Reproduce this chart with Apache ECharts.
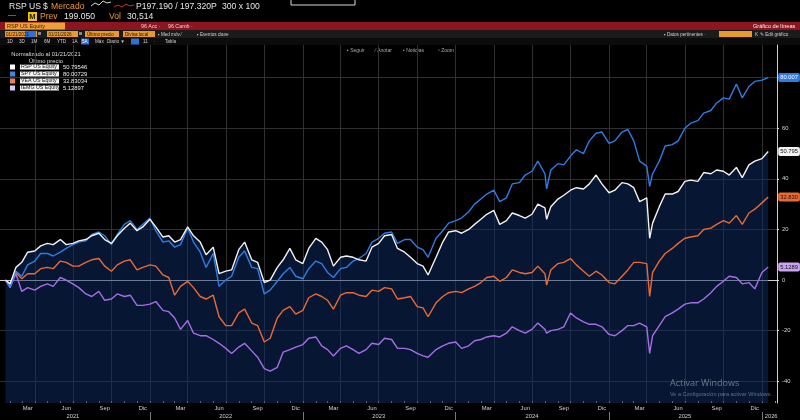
<!DOCTYPE html>
<html><head><meta charset="utf-8">
<script src="https://cdn.jsdelivr.net/npm/echarts@6/dist/echarts.min.js"></script>
<style>html,body{margin:0;padding:0;background:#000;}#c{width:800px;height:420px;}</style>
</head><body><div id="c"></div>
<script>
const dates = [
'2021-01-21','2021-02-01','2021-02-15','2021-03-01','2021-03-15','2021-04-01','2021-04-15','2021-05-01','2021-05-15','2021-06-01','2021-06-15','2021-07-01','2021-07-15','2021-08-01','2021-08-15','2021-09-01','2021-09-15','2021-10-01','2021-10-15','2021-11-01','2021-11-15','2021-12-01','2021-12-15',
'2022-01-01','2022-01-15','2022-02-01','2022-02-15','2022-03-01','2022-03-15','2022-04-01','2022-04-15','2022-05-01','2022-05-15','2022-06-01','2022-06-15','2022-07-01','2022-07-15','2022-08-01','2022-08-15','2022-09-01','2022-09-15','2022-10-01','2022-10-15','2022-11-01','2022-11-15','2022-12-01','2022-12-15',
'2023-01-01','2023-01-15','2023-02-01','2023-02-15','2023-03-01','2023-03-15','2023-04-01','2023-04-15','2023-05-01','2023-05-15','2023-06-01','2023-06-15','2023-07-01','2023-07-15','2023-08-01','2023-08-15','2023-09-01','2023-09-15','2023-10-01','2023-10-15','2023-10-27','2023-11-15','2023-12-01','2023-12-15',
'2024-01-01','2024-01-15','2024-02-01','2024-02-15','2024-03-01','2024-03-15','2024-04-01','2024-04-15','2024-05-01','2024-05-15','2024-06-01','2024-06-15','2024-07-01','2024-07-15','2024-08-01','2024-08-05','2024-08-15','2024-09-01','2024-09-15','2024-10-01','2024-10-15','2024-11-01','2024-11-15','2024-12-01','2024-12-15',
'2025-01-01','2025-01-15','2025-02-01','2025-02-15','2025-03-01','2025-03-15','2025-04-01','2025-04-08','2025-04-15','2025-05-01','2025-05-15','2025-06-01','2025-06-15','2025-07-01','2025-07-15','2025-08-01','2025-08-15','2025-09-01','2025-09-15','2025-10-01','2025-10-15','2025-11-01','2025-11-15','2025-12-01','2025-12-15',
'2026-01-01','2026-01-16'];

const rsp = [
0,-1.5,5,7,11,11.5,13.5,14.5,14,16,14,14.5,15.5,16,17.5,18.5,16,14.5,17.5,20.5,22.5,19.5,21,
24,21,17,17.5,15,16,21,17.5,15,10,13,2.5,3.5,4,12,15,8,7,-1,0,5,8,12.5,8,
6.5,12.5,16.5,15,12,5.5,9,9.5,9,8,7.5,13,14.5,17.5,18,12.5,11,9,6.5,5.5,2,9,15,19,
19.5,18.5,20,22,24,26,27.5,22,23.5,26.5,25.5,24.5,26,30,28.5,24,29,32,33.5,35.5,36.5,36,38,41.5,38,
34.5,35.5,38.5,38,36.5,31,32.5,16.5,22.5,29,34,34,35,39,39.5,39,42.5,42,43.5,43,41.5,44.5,40.5,45.5,47,
48,50.79546];

const spy = [
0,-2.5,3.5,1.5,6,7.5,10.5,10.5,9.5,11,12.5,14,15,15.5,18,19,17.5,14,18,22,23.5,20,22,
24.5,19.5,15,15.5,13,14,20.5,15,11,5,10.5,-2.5,0,1.5,9,11.5,5,4.5,-5.5,-4,-0.5,2.5,5,1.5,
0.5,4.5,7.5,6.5,3,1,4.5,5,7.5,8.5,10.5,15,16.5,18.5,19,14.5,16,16,13,12,9,16.5,19.5,22.5,
23.5,24.5,27,30,32,34,35.5,31,32.5,38,38.5,41.5,43,47,42,36,43.5,46,45.5,49,51.5,50,55,58,58.5,
54,55,58.5,59.5,55,47,45,37,42,47,53,53.5,55,60,62,63,66,67,70,72,71.5,77.5,72,76.5,78.5,
79,80.00729];

const vea = [
0,-1.5,3,0.5,2.5,2.5,4.5,5,4.5,7.5,7,5.5,5.5,7,8,8.5,5.5,3.5,6,7.5,8,4,5,
6,5.5,2,1,-6,-2.5,-0.5,-3,-6.5,-7.5,-6,-14.5,-18,-18,-13,-11.5,-17,-18,-24.5,-23,-15,-12,-10.5,-13.5,
-12,-7,-5.5,-6.5,-8,-11.5,-6,-5,-5,-6,-6.5,-4,-4.5,-3,-3.5,-7.5,-7,-6.5,-10.5,-11,-14.5,-9,-6.5,-5,
-4.5,-5,-3.5,-2.5,-1,1,1.5,-0.5,1,4,3,2.5,3,5.5,2.5,-2,4,6.5,7,8.5,6,3.5,1.5,3.5,2,
-1,-1.5,1.5,4,7,7,6.5,-6.5,3,7.5,10.5,12.5,14.5,16.5,17,17.5,20,20.5,22,23.5,22.5,25.5,22,26.5,28,
30.5,32.83034];

const iemg = [
0,-3,2.5,-4.5,-3,-4,-2.5,-1.5,-2.5,1,0,-1.5,-3,-5.5,-6.5,-4.5,-8,-7.5,-5.5,-6.5,-6,-10,-10,
-9.5,-8.5,-12,-12.5,-15,-19.5,-16,-21,-22,-22,-23.5,-25,-27,-29,-26.5,-25,-28,-30.5,-35,-36,-34.5,-28.5,-27.5,-26.5,
-25.5,-23,-22.5,-26,-27.5,-30,-27,-26,-27.5,-29,-27.5,-25,-25.5,-23,-23.5,-27,-27,-27.5,-29,-30,-30.5,-27.5,-26,-25,
-24.5,-27,-26,-24,-23.5,-22.5,-22,-22.5,-21,-18.5,-20,-21,-19.5,-17,-19.5,-21,-20,-19.5,-18.5,-13,-15,-16.5,-17.5,-17.5,-18.5,
-21.5,-22,-20,-18,-18,-17,-18.5,-29,-22,-18,-14.5,-13,-11.5,-9.5,-9,-9,-7.5,-5,-2.5,-0.5,1.5,1,-1.5,-1,-3.5,
3,5.12897];

const seriesNames = ['RSP US Equity','SPY US Equity','VEA US Equity','IEMG US Equity'];
const seriesColors = ['#f2f2f2','#2f7de4','#ea6a34','#a66ee6'];
const legendIconColors = ['#ffffff','#3a86ea','#f08050','#dcc8f6'];
const endBoxColors = ['#f2f2f2','#2f7de4','#ea6a34','#c9a4f2'];
const endTextColors = ['#111','#fff','#111','#111'];
const monthNames = ['Ene','Feb','Mar','Abr','May','Jun','Jul','Ago','Sep','Oct','Nov','Dic'];
const yTickValues = [-40,-20,0,20,40,60,80];
const yLabelValues = [-40,-20,0,20,40,60];
const labelYears = [2021,2022,2023,2024,2025];
const labelMonths = [2,5,8,11];

const ts = d => { const p = d.split('-').map(Number); return Date.UTC(p[0], p[1]-1, p[2]); };
const allValues = [rsp, spy, vea, iemg];
const pairs = arr => dates.map((d,i) => [ts(d), arr[i]]);

const X_MIN = Date.UTC(2021,0,8), X_MAX = Date.UTC(2026,1,6);
const monthLabelVals = [];
labelYears.forEach(y => labelMonths.forEach(m => monthLabelVals.push(Date.UTC(y,m,15))));
const monthTickVals = [];
for (let y=2021;y<=2026;y++) for (let m=0;m<12;m++){ const t=Date.UTC(y,m,1); if (t>X_MIN && t<X_MAX) monthTickVals.push(t); }
const quarterVals = [];
for (let y=2021;y<=2026;y++) for (let m=0;m<12;m+=3){ const t=Date.UTC(y,m,1); if (t>X_MIN && t<X_MAX) quarterVals.push(t); }
const yearLabelVals = labelYears.map(y => Date.UTC(y,6,1)).concat([Date.UTC(2026,0,23)]);
const yearTickVals = [2022,2023,2024,2025,2026].map(y => Date.UTC(y,0,1));

const fmtLast = v => { const d = Math.floor(Math.log10(Math.abs(v)))+1; const dec = Math.max(0,5-d); const f = Math.pow(10,dec); return (Math.floor(v*f)/f).toFixed(dec); };
const lastVal = {};
seriesNames.forEach((n,i) => lastVal[n] = allValues[i][allValues[i].length-1]);

const F = 'Liberation Sans, Arial, sans-serif';
const T = (x,y,text,fill,size,extra) => {
  const e = Object.assign({type:'text', x:x, y:y}, extra||{});
  e.style = Object.assign({text:text, fill:fill, font:(size||6)+'px '+F, verticalAlign:'top'}, (extra&&extra.s)||{});
  delete e.s;
  return e;
};
const R = (x,y,w,h,fill,stroke) => ({type:'rect', shape:{x:x,y:y,width:w,height:h}, style: stroke ? {fill:'none', stroke:stroke, lineWidth:1} : {fill:fill}});

const HF = 8.6;
const graphics = [
  // header row 1
  T(9,2,'RSP US','#e6e6e6',HF),
  T(43,2,'$','#e6e6e6',HF),
  T(51,2,'Mercado','#ef9a2c',HF),
  {type:'polyline', shape:{points:[[91,6],[95,3],[99,5],[103,1],[107,3],[111,2]]}, style:{stroke:'#d8d8d8', lineWidth:1, fill:null}},
  {type:'polyline', shape:{points:[[114,7],[118,5],[122,7],[126,4],[130,6],[134,5]]}, style:{stroke:'#c83030', lineWidth:1, fill:null}},
  T(136,2,'P197.190 / 197.320P','#e6e6e6',HF),
  T(222,2,'300 x 100','#e6e6e6',HF),
  R(291,-4,64,9,null,'#d8d8d8'),
  // header row 2
  T(8,11,'—','#bbbbbb',8),
  R(28,12,9,9,'#f3c300'),
  T(29.3,12.8,'M','#1a1a1a',7.5,{s:{font:'bold 7.5px '+F}}),
  T(40,12,'Prev','#ef9a2c',HF),
  T(64,12,'199.050','#e6e6e6',HF),
  T(109,12,'Vol','#ef9a2c',HF),
  T(127,12,'30,514','#e6e6e6',HF),
  // red bar
  R(0,22,800,8,'#8c1520'),
  R(5,22.5,60,7,'#f0a038'),
  T(7,23.4,'RSP US Equity','#4a1500',5.6),
  T(141,23.6,'96 Acc ·','#f3cccc',5.3),
  T(168,23.6,'96 Camb ·','#f3cccc',5.3),
  T(753,23.4,'Gráfico de líneas','#f5f5f5',5.6),
  // toolbar row
  R(0,30,800,8,'#1b1b1b'),
  R(5,31,32,6,'#e99a2e'), R(25,31,11,6,'#2f6fd8'),
  T(6,31.9,'01/21/2021','#2a1200',4.6),
  R(38,32,3,3,'#888'),
  R(47,31,31,6,'#e99a2e'), T(48.5,31.9,'01/21/2026','#2a1200',4.6),
  R(79,32,3,3,'#888'),
  R(85,31,34,6,'#e99a2e'), T(87,31.9,'Último precio','#2a1200',4.6),
  R(123,31,32,6,'#e99a2e'), T(125,31.9,'Divisa local','#2a1200',4.6),
  T(158,31.9,'▪ Med móv ⁄','#cfcfcf',4.6),
  T(197,31.9,'▪ Eventos clave','#cfcfcf',4.6),
  T(664,31.9,'▪ Datos pertinentes ·','#cfcfcf',4.6),
  R(719,31,33,6,'#e99a2e'),
  T(755,31.9,'K','#cfcfcf',4.6),
  T(760,31.9,'✎ Edit gráfico','#cfcfcf',4.6),
  // period row
  R(0,38,800,7,'#0c0c0c'),
  T(7,39.4,'1D','#cfcfcf',4.6), T(19,39.4,'3D','#cfcfcf',4.6), T(31,39.4,'1M','#cfcfcf',4.6),
  T(44,39.4,'6M','#cfcfcf',4.6), T(57,39.4,'YTD','#cfcfcf',4.6), T(72,39.4,'1A','#cfcfcf',4.6),
  R(81,38.5,8,6,'#2f6fd8'), T(82,39.4,'5A','#ffffff',4.6),
  T(95,39.4,'Máx','#cfcfcf',4.6), T(107,39.4,'Diario ▼','#cfcfcf',4.6),
  R(131,38.5,8,6,'#2f6fd8'), T(143,39.4,'11','#cfcfcf',4.6), T(154,39.4,'·','#cfcfcf',4.6),
  T(165,39.4,'Tabla','#cfcfcf',4.6),
  // chart toolbar
  T(347,48,'▪ Seguir','#a8a8a8',5),
  T(375,48,'⁄ Anotar','#a8a8a8',5),
  T(403,48,'▪ Noticias','#a8a8a8',5),
  T(438,48,'▫ Zoom','#a8a8a8',5),
  // legend heading
  T(46,51.5,'Normalizado al 01/21/2021','#dddddd',5.8,{s:{align:'center'}}),
  T(46,58.5,'Último precio','#dddddd',5.8,{s:{align:'center'}}),
  // watermark
  T(670,379,'Activar Windows','rgba(175,180,190,0.6)',9,{z:100, s:{font:'9px Open Sans, sans-serif'}}),
  T(670,391,'Ve a Configuración para activar Windows.','rgba(175,180,190,0.55)',5.5,{z:100})
];

const lineSeries = [3,2,1,0].map(i => ({
  name: seriesNames[i],
  type: 'line',
  data: pairs(allValues[i]),
  showSymbol: false, symbol: 'none',
  lineStyle: { color: seriesColors[i], width: 1.4 },
  itemStyle: { color: seriesColors[i] },
  emphasis: { disabled: true },
  z: 3 + (3 - i),
  endLabel: {
    show: true, distance: 10,
    formatter: p => fmtLast(p.value[1]),
    backgroundColor: endBoxColors[i], color: endTextColors[i],
    fontSize: 5.8, fontFamily: F, padding: [1.5,2], borderRadius: 2
  }
}));

const option = {
  backgroundColor: '#000',
  animation: false,
  grid: { left: 0, right: 23, top: 45, bottom: 17, containLabel: false },
  xAxis: [
    { type: 'value', min: X_MIN, max: X_MAX,
      axisLine: { show: true, lineStyle: { color: '#cfcfcf', width: 1 } },
      axisTick: { show: false, customValues: quarterVals },
      axisLabel: { show: false },
      splitLine: { show: true, lineStyle: { color: '#303030', width: 1 } } },
    { type: 'value', min: X_MIN, max: X_MAX, position: 'bottom',
      axisLine: { show: false },
      axisTick: { show: true, customValues: monthTickVals, length: 2, inside: true, lineStyle: { color: '#9a9a9a' } },
      axisLabel: { show: true, customValues: monthLabelVals, formatter: v => monthNames[new Date(v).getUTCMonth()],
                   color: '#cfcfcf', fontSize: 5.8, fontFamily: F, margin: 2 },
      splitLine: { show: false } },
    { type: 'value', min: X_MIN, max: X_MAX, position: 'bottom', offset: 9,
      axisLine: { show: false },
      axisTick: { show: true, customValues: yearTickVals, length: 9, lineStyle: { color: '#777' } },
      axisLabel: { show: true, customValues: yearLabelVals, formatter: v => String(new Date(v).getUTCFullYear()),
                   color: '#cfcfcf', fontSize: 5.8, fontFamily: F, margin: 1 },
      splitLine: { show: false } }
  ],
  yAxis: {
    type: 'value', position: 'right', min: -48.6, max: 92.9,
    axisLine: { show: true, lineStyle: { color: '#cfcfcf', width: 1 } },
    axisTick: { show: true, customValues: yTickValues, length: 2, lineStyle: { color: '#e0e0e0' } },
    axisLabel: { customValues: yLabelValues, color: '#d8d8d8', fontSize: 5.8, fontFamily: F, margin: 5 },
    splitLine: { show: true, lineStyle: { color: '#303030', width: 1 } }
  },
  legend: {
    orient: 'vertical', left: 10, top: 64, padding: 0, itemGap: 1, itemWidth: 5, itemHeight: 5,
    icon: 'rect', selectedMode: false,
    data: seriesNames.map((n,i) => ({ name: n, itemStyle: { color: legendIconColors[i] } })),
    formatter: n => '{n|' + n + '}{v|' + lastVal[n].toFixed(5) + '}',
    textStyle: { fontSize: 5.4, fontFamily: F, color: '#eee', lineHeight: 6,
      rich: { n: { backgroundColor: '#f2f2f2', color: '#111', width: 37, padding: [0,1], fontSize: 5.3, lineHeight: 6 },
              v: { color: '#eeeeee', padding: [0,0,0,4], fontSize: 5.8, lineHeight: 6 } } }
  },
  graphic: graphics,
  series: [
    { name: 'RSP area', type: 'line', data: pairs(rsp), showSymbol: false, symbol: 'none',
      lineStyle: { width: 0 }, areaStyle: { color: 'rgba(14,46,100,0.72)', origin: 'start' },
      silent: true, z: 1, emphasis: { disabled: true } }
  ].concat(lineSeries)
};

const chart = echarts.init(document.getElementById('c'), null, { renderer: 'canvas' });
chart.setOption(option);
</script></body></html>
